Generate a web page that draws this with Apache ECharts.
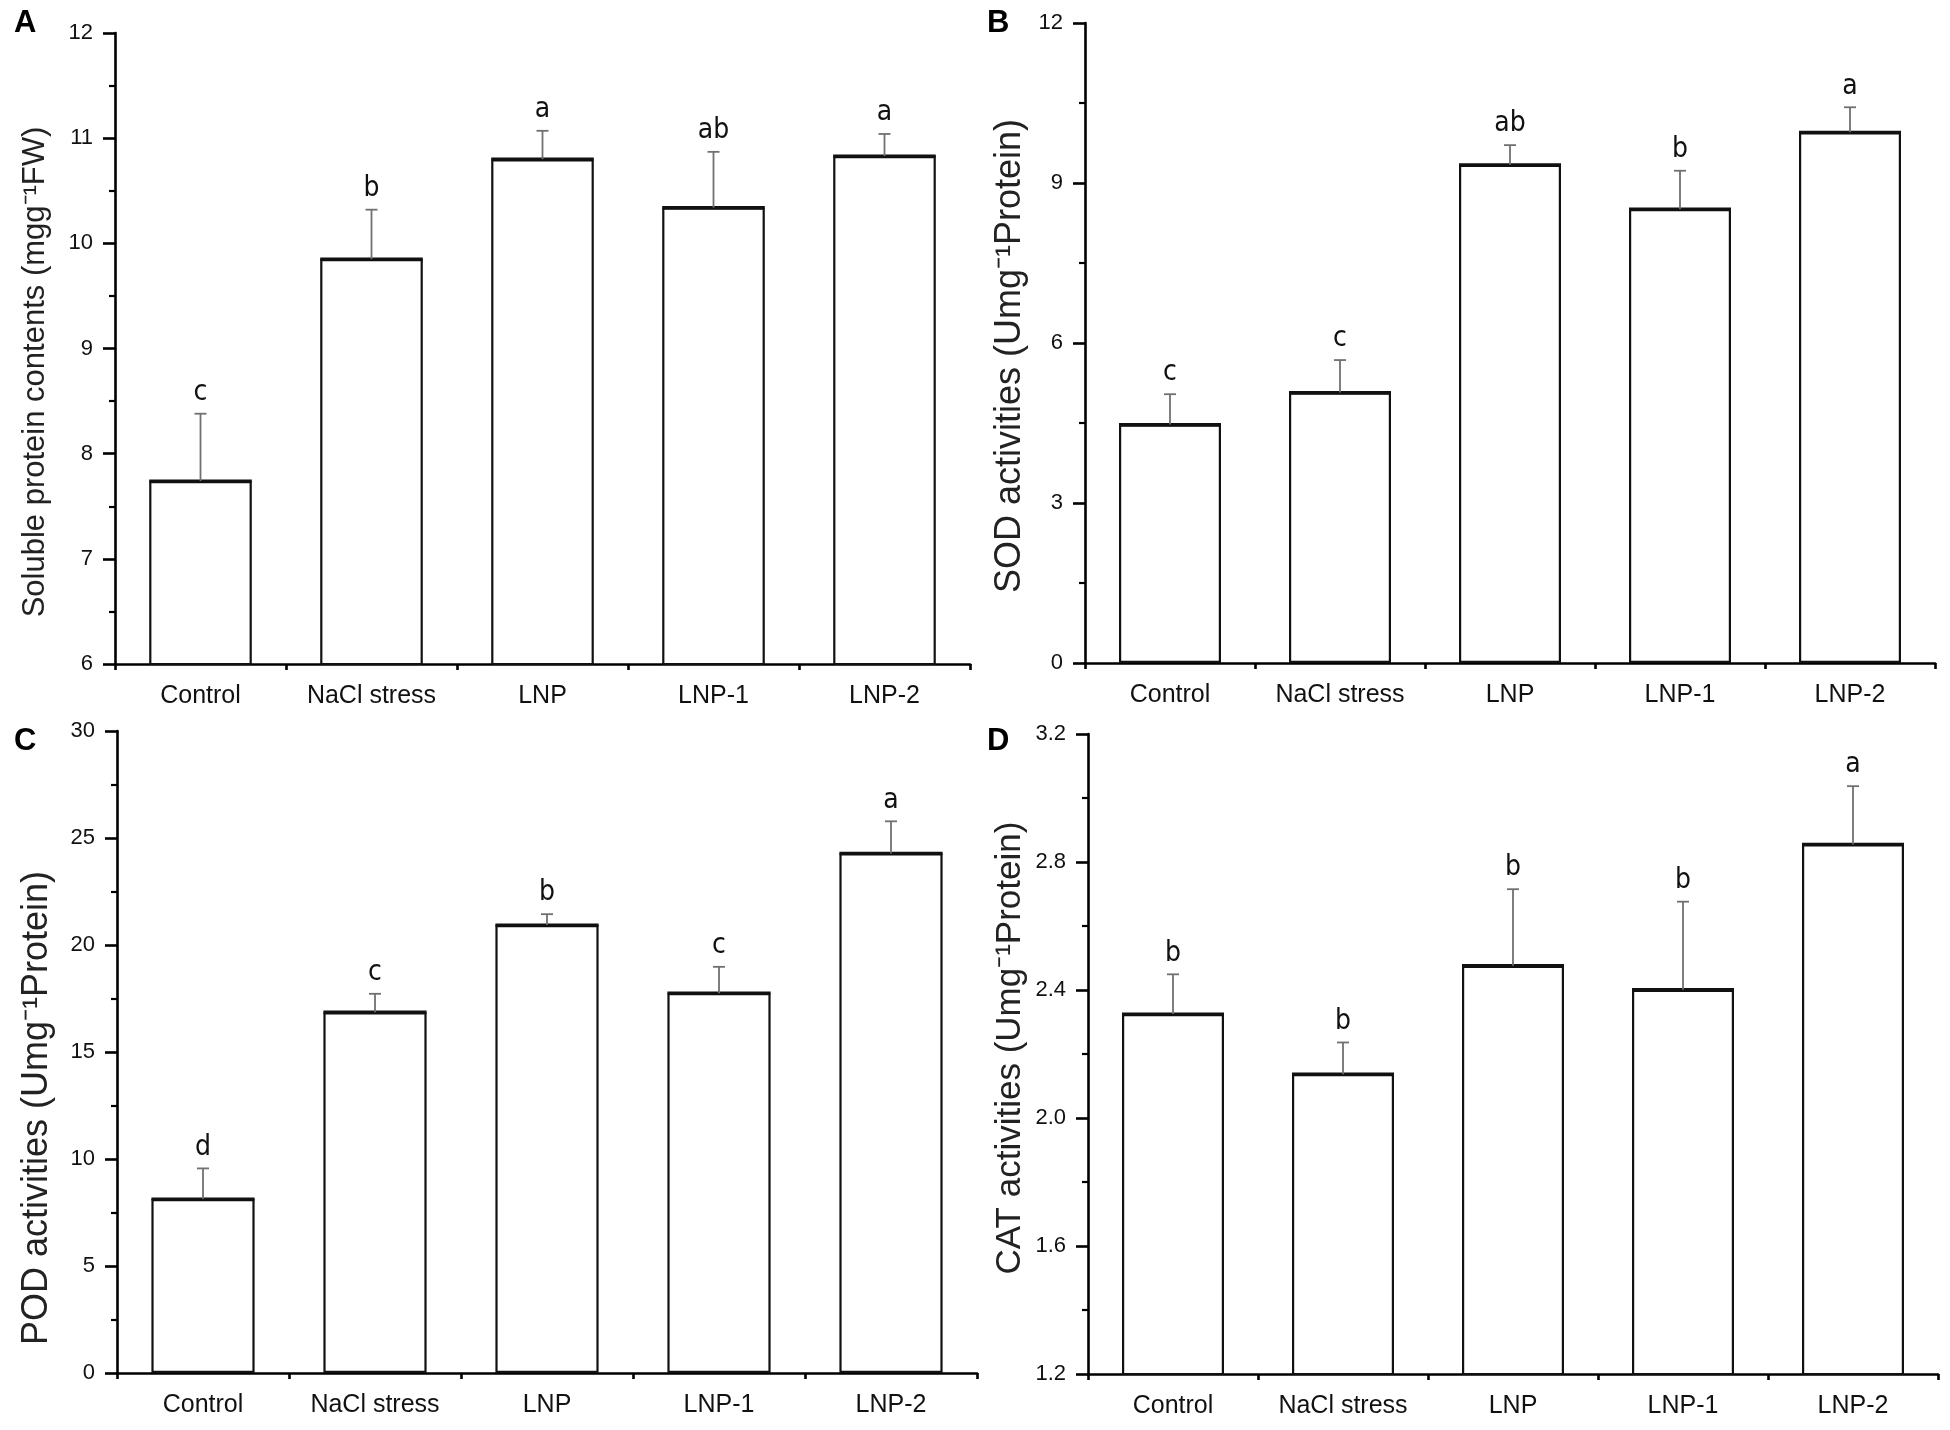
<!DOCTYPE html>
<html>
<head>
<meta charset="utf-8">
<title>Antioxidant indices</title>
<script src="https://cdn.jsdelivr.net/npm/echarts@6.0.0/dist/echarts.min.js"></script>
<style>
  html, body { margin: 0; padding: 0; background: #fff; }
  #main { width: 1950px; height: 1430px; }
</style>
</head>
<body>
<div id="main"></div>
<script>
// categories shared by all four panels
var groups = ['Control', 'NaCl stress', 'LNP', 'LNP-1', 'LNP-2'];

// A - soluble protein
var proteinMean = [7.74, 9.85, 10.80, 10.34, 10.83];
var proteinSD = [0.64, 0.47, 0.27, 0.53, 0.21];
var proteinSig = ['c', 'b', 'a', 'ab', 'a'];

// B - SOD
var sodMean = [4.47, 5.07, 9.34, 8.51, 9.95];
var sodSD = [0.57, 0.61, 0.37, 0.72, 0.47];
var sodSig = ['c', 'c', 'ab', 'b', 'a'];

// C - POD
var podMean = [8.13, 16.86, 20.93, 17.75, 24.28];
var podSD = [1.43, 0.86, 0.51, 1.23, 1.50];
var podSig = ['d', 'c', 'b', 'c', 'a'];

// D - CAT
var catMean = [2.325, 2.137, 2.476, 2.401, 2.855];
var catSD = [0.124, 0.099, 0.239, 0.275, 0.182];
var catSig = ['b', 'b', 'b', 'b', 'a'];

var textFont = "'Liberation Sans', Arial, sans-serif";
var sigFont = "'Liberation Sans Narrow', 'DejaVu Sans Condensed', 'Liberation Sans', sans-serif";

var panels = [
  { key: 'A', mean: proteinMean, sd: proteinSD, sig: proteinSig, min: 6, max: 12, step: 1, dec: 0,
    grid: { left: 115, top: 33, width: 855, height: 631 },
    title: 'Soluble protein contents (mgg\u207B\u00B9FW)', tsize: 31, tx: 35, ty: 372, lx: 14, ly: 8 },
  { key: 'B', mean: sodMean, sd: sodSD, sig: sodSig, min: 0, max: 12, step: 3, dec: 0,
    grid: { left: 1085, top: 23, width: 850, height: 640 },
    title: 'SOD activities (Umg\u207B\u00B9Protein)', tsize: 36, tx: 1010, ty: 356, lx: 987, ly: 8 },
  { key: 'C', mean: podMean, sd: podSD, sig: podSig, min: 0, max: 30, step: 5, dec: 0,
    grid: { left: 117, top: 731, width: 860, height: 642 },
    title: 'POD activities (Umg\u207B\u00B9Protein)', tsize: 36, tx: 37, ty: 1108, lx: 14, ly: 726 },
  { key: 'D', mean: catMean, sd: catSD, sig: catSig, min: 1.2, max: 3.2, step: 0.4, dec: 1,
    grid: { left: 1088, top: 734, width: 850, height: 640 },
    title: 'CAT activities (Umg\u207B\u00B9Protein)', tsize: 35, tx: 1010, ty: 1048, lx: 987, ly: 726 }
];

var grids = [], xAxes = [], yAxes = [], series = [], graphics = [];

// upper error bar, heavier bar top edge and the significance letter
function errorBars(p) {
  return function (params, api) {
    var i = params.dataIndex;
    var base = api.coord([api.value(0), api.value(1)]);
    var top = api.coord([api.value(0), api.value(2)]);
    var x = base[0];
    var half = api.size([1, 0])[0] * 0.3;
    return {
      type: 'group',
      children: [
        { type: 'line', shape: { x1: x - half, y1: base[1], x2: x + half, y2: base[1] },
          style: { stroke: '#111', lineWidth: 3.2 } },
        { type: 'line', shape: { x1: x, y1: base[1], x2: x, y2: top[1] },
          style: { stroke: '#707070', lineWidth: 1.8 } },
        { type: 'line', shape: { x1: x - 6, y1: top[1], x2: x + 6, y2: top[1] },
          style: { stroke: '#707070', lineWidth: 1.8 } },
        { type: 'text', x: x, y: top[1] - 7,
          style: { text: p.sig[i], align: 'center', verticalAlign: 'bottom',
                   font: '28px ' + sigFont, fill: '#111' } }
      ]
    };
  };
}

panels.forEach(function (p, k) {
  grids.push(Object.assign({ outerBoundsMode: 'none' }, p.grid));

  // labelled axis with ticks at the bar centres
  xAxes.push({
    type: 'category', gridIndex: k, data: groups, position: 'bottom',
    axisLine: { onZero: false, lineStyle: { color: '#000', width: 2.6 } },
    axisTick: { alignWithLabel: true, length: 13, lineStyle: { color: '#000', width: 2.6 } },
    axisLabel: { color: '#111', fontSize: 25, fontFamily: textFont, margin: 20, interval: 0 }
  });
  yAxes.push({
    type: 'value', gridIndex: k, min: p.min, max: p.max, interval: p.step,
    splitLine: { show: false },
    axisLine: { show: true, lineStyle: { color: '#000', width: 2.6 } },
    axisTick: { show: true, length: 12, lineStyle: { color: '#000', width: 2.6 } },
    minorTick: { show: true, splitNumber: 2, length: 6, lineStyle: { color: '#000', width: 2.2 } },
    axisLabel: { color: '#111', fontSize: 22, fontFamily: textFont, margin: 22,
                 formatter: function (v) { return v.toFixed(p.dec); } }
  });

  var errData = p.mean.map(function (m, i) { return [i, m, +(m + p.sd[i]).toFixed(3)]; });
  series.push({
    type: 'bar', xAxisIndex: k, yAxisIndex: k, data: p.mean, barWidth: '60%',
    itemStyle: { color: '#fff', borderColor: '#111', borderWidth: 2.2 },
    silent: true, z: 2
  });
  series.push({
    type: 'custom', xAxisIndex: k, yAxisIndex: k, data: errData,
    renderItem: errorBars(p), silent: true, z: 3, clip: false
  });

  graphics.push({ type: 'text', left: p.lx, top: p.ly,
    style: { text: p.key, font: 'bold 31px ' + textFont, fill: '#000' } });
  graphics.push({ type: 'text', x: p.tx, y: p.ty, rotation: Math.PI / 2,
    style: { text: p.title, align: 'center', verticalAlign: 'middle',
             font: p.tsize + 'px ' + textFont, fill: '#222' } });
});

// second set of category axes only for the short ticks between the bars
panels.forEach(function (p, k) {
  xAxes.push({
    type: 'category', gridIndex: k, data: groups, position: 'bottom',
    axisLine: { show: false, onZero: false },
    axisTick: { show: true, length: 6, lineStyle: { color: '#000', width: 2.6 } },
    axisLabel: { show: false }
  });
});

var chart = echarts.init(document.getElementById('main'), null, { renderer: 'canvas' });
chart.setOption({
  backgroundColor: '#fff',
  animation: false,
  grid: grids,
  xAxis: xAxes,
  yAxis: yAxes,
  series: series,
  graphic: graphics
});
</script>
</body>
</html>
